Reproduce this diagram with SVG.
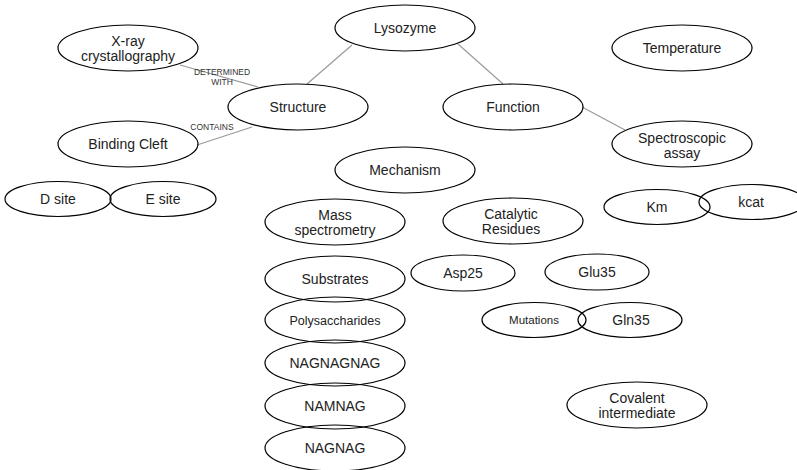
<svg xmlns="http://www.w3.org/2000/svg" width="797" height="470" viewBox="0 0 797 470">
<style>
ellipse{fill:none;stroke:#000;stroke-width:1.2}
text{font-family:"Liberation Sans",Arial,sans-serif;font-size:14px;fill:#222;text-anchor:middle}
.s{font-size:12.5px}
.m{font-size:11.5px}
.lbl{font-size:8.5px;fill:#333}
.e{stroke:#999;stroke-width:1.2;fill:none}
</style>
<rect width="797" height="470" fill="#fff"/>
<g id="connectors">
<line class="e" x1="352" y1="45" x2="307" y2="84"/>
<line class="e" x1="458" y1="44" x2="503" y2="84"/>
<line class="e" x1="582" y1="107" x2="625" y2="130"/>
<line class="e" x1="180" y1="65" x2="258" y2="87"/>
<line class="e" x1="197" y1="145" x2="252" y2="127"/>
<text class="lbl" x="222" y="75">DETERMINED</text>
<text class="lbl" x="222" y="85">WITH</text>
<text class="lbl" x="212" y="130">CONTAINS</text>
</g>
<g id="lysozyme"><ellipse cx="405" cy="28" rx="70" ry="23"/><text x="405" y="33">Lysozyme</text></g>
<g id="xray"><ellipse cx="128" cy="48" rx="70" ry="23"/><text x="128" y="46">X-ray</text><text x="128" y="61">crystallography</text></g>
<g id="temperature"><ellipse cx="682" cy="48" rx="70" ry="23"/><text x="682" y="53">Temperature</text></g>
<g id="structure"><ellipse cx="298" cy="107" rx="70" ry="23"/><text x="298" y="112">Structure</text></g>
<g id="function"><ellipse cx="513" cy="107" rx="70" ry="23"/><text x="513" y="112">Function</text></g>
<g id="binding-cleft"><ellipse cx="128" cy="144" rx="70" ry="23"/><text x="128" y="149">Binding Cleft</text></g>
<g id="spectroscopic"><ellipse cx="682" cy="144" rx="70" ry="23"/><text x="682" y="143">Spectroscopic</text><text x="682" y="158">assay</text></g>
<g id="mechanism"><ellipse cx="405" cy="170" rx="70" ry="23"/><text x="405" y="175">Mechanism</text></g>
<g id="dsite"><ellipse cx="58" cy="199" rx="53" ry="17.5"/><text x="58" y="204">D site</text></g>
<g id="esite"><ellipse cx="163" cy="199" rx="53" ry="17.5"/><text x="163" y="204">E site</text></g>
<g id="km"><ellipse cx="657" cy="207" rx="53" ry="17.5"/><text x="657" y="212">Km</text></g>
<g id="kcat"><ellipse cx="752" cy="202" rx="53" ry="17.5"/><text x="751" y="207">kcat</text></g>
<g id="mass-spec"><ellipse cx="335" cy="222" rx="70" ry="23"/><text x="335" y="220">Mass</text><text x="335" y="235">spectrometry</text></g>
<g id="catalytic"><ellipse cx="513" cy="221" rx="70" ry="23"/><text x="511" y="219">Catalytic</text><text x="511" y="234">Residues</text></g>
<g id="substrates"><ellipse cx="335" cy="279" rx="70" ry="23"/><text x="335" y="284">Substrates</text></g>
<g id="asp25"><ellipse cx="463" cy="273" rx="52" ry="18"/><text x="463" y="278">Asp25</text></g>
<g id="glu35"><ellipse cx="597" cy="272" rx="52" ry="18"/><text x="597" y="277">Glu35</text></g>
<g id="polysaccharides"><ellipse cx="335" cy="320" rx="70" ry="23"/><text class="s" x="335" y="325">Polysaccharides</text></g>
<g id="gln35"><ellipse cx="630" cy="320" rx="52" ry="17.5"/><text x="631" y="325">Gln35</text></g>
<g id="mutations"><ellipse cx="534" cy="320" rx="52" ry="17.5"/><text class="m" x="534" y="324">Mutations</text></g>
<g id="nagnagnag"><ellipse cx="335" cy="363" rx="70" ry="23"/><text x="335" y="368">NAGNAGNAG</text></g>
<g id="covalent"><ellipse cx="637" cy="405" rx="70" ry="23"/><text x="637" y="403">Covalent</text><text x="637" y="418">intermediate</text></g>
<g id="namnag"><ellipse cx="335" cy="406" rx="70" ry="23"/><text x="335" y="411">NAMNAG</text></g>
<g id="nagnag"><ellipse cx="335" cy="448" rx="70" ry="23"/><text x="335" y="453">NAGNAG</text></g>
</svg>
